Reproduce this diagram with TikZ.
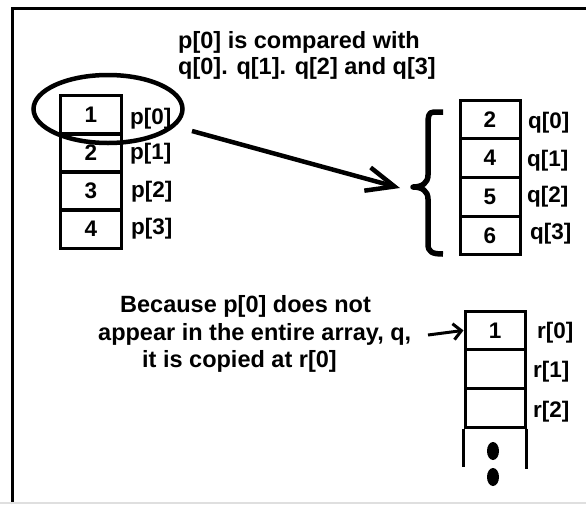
\documentclass[tikz,border=0pt]{standalone}
\usepackage{fontspec}
\setmainfont{Liberation Sans}
\usetikzlibrary{arrows.meta,shapes.geometric}
\begin{document}
\begin{tikzpicture}[x=1pt,y=-1pt,
  txt/.style={font=\fontsize{23.5}{27}\selectfont\bfseries, inner sep=0pt},
  cell/.style={draw, line width=3pt, minimum width=61pt, minimum height=38.5pt,
               inner sep=0pt, font=\fontsize{22.5}{27}\selectfont\bfseries},
  lbl/.style={inner sep=0pt, anchor=west, font=\fontsize{22.5}{27}\selectfont\bfseries},
  bigarrow/.style={line width=4.5pt, -{Straight Barb[length=28pt,width=24pt,line width=4.5pt]}},
  smallarrow/.style={line width=3pt, -{Straight Barb[length=8pt,width=16pt,line width=3pt]}}]
  \useasboundingbox (0,0) rectangle (586,504);
  \fill[white] (0,0) rectangle (586,504);
  % outer frame (top and left edges) and faint bottom edge
  \draw[line width=3pt] (12,504) -- (12,8) -- (586,8);
  \draw[gray!25, line width=1.5pt] (0,503) -- (586,503);

  % heading
  \node[txt, anchor=base west] (h1) at (178,48) {p[0] is compared with};
  \node[txt, anchor=base west] (h2) at (178,74) {q[0]. q[1]. q[2] and q[3]};

  % array p
  \node[cell] (p0) at (91,115) {1};
  \node[cell] (p1) at (91,153) {2};
  \node[cell] (p2) at (91,191) {3};
  \node[cell] (p3) at (91,229) {4};
  \node[lbl] (lp0) at (130,119) {p[0]};
  \node[lbl] (lp1) at (130,154) {p[1]};
  \node[lbl] (lp2) at (131,192) {p[2]};
  \node[lbl] (lp3) at (131,229) {p[3]};

  % highlight around p[0]
  \node[draw, ellipse, line width=4.5pt, minimum width=149pt, minimum height=68pt,
        inner sep=0pt] (hl) at (108,109) {};

  % array q
  \node[cell, minimum width=60pt] (q0) at (490,119.4) {2};
  \node[cell, minimum width=60pt] (q1) at (490,158.1) {4};
  \node[cell, minimum width=60pt] (q2) at (490,196.9) {5};
  \node[cell, minimum width=60pt] (q3) at (490,235.6) {6};
  \node[lbl] (lq0) at (528,123) {q[0]};
  \node[lbl] (lq1) at (527,161) {q[1]};
  \node[lbl] (lq2) at (527,197) {q[2]};
  \node[lbl] (lq3) at (530,234) {q[3]};

  % brace in front of q
  \coordinate (btip) at (413,187);
  \draw[line width=5.5pt, line join=round]
    (443,112) -- (434,112) .. controls (428,112) and (428,117) .. (428,125)
    -- (428,175) .. controls (428,183) and (422,187) .. (btip)
    .. controls (422,187) and (428,191) .. (428,199)
    -- (428,244) .. controls (428,252) and (432,254) .. (443,254);

  % p[0] compared with q
  \coordinate (from) at (192,131);
  \coordinate (qin) at (400,188);
  \draw[bigarrow] (from) -- (qin);

  % explanation
  \node[txt, anchor=base west] (e1) at (120,312) {Because p[0] does not};
  \node[txt, anchor=base west] (e2) at (98,340) {appear in the entire array, q,};
  \node[txt, anchor=base west] (e3) at (142,367) {it is copied at r[0]};

  % array r
  \node[cell, minimum width=60pt] (r0) at (495,330.4) {1};
  \node[cell, minimum width=60pt] (r1) at (495,369.1) {};
  \node[cell, minimum width=60pt] (r2) at (495,407.8) {};
  \draw[line width=3pt] (r2.south west) -- ++(0,38);
  \draw[line width=3pt] (r2.south east) -- ++(0,40);
  \fill (493,451) ellipse [x radius=6, y radius=9];
  \fill (493,477) ellipse [x radius=6, y radius=9];
  \node[lbl] (lr0) at (537,333) {r[0]};
  \node[lbl] (lr1) at (533,372) {r[1]};
  \node[lbl] (lr2) at (533,412) {r[2]};

  \coordinate (rin) at (428,335);
  \draw[smallarrow] (rin) -- (r0.west);
\end{tikzpicture}
\end{document}
